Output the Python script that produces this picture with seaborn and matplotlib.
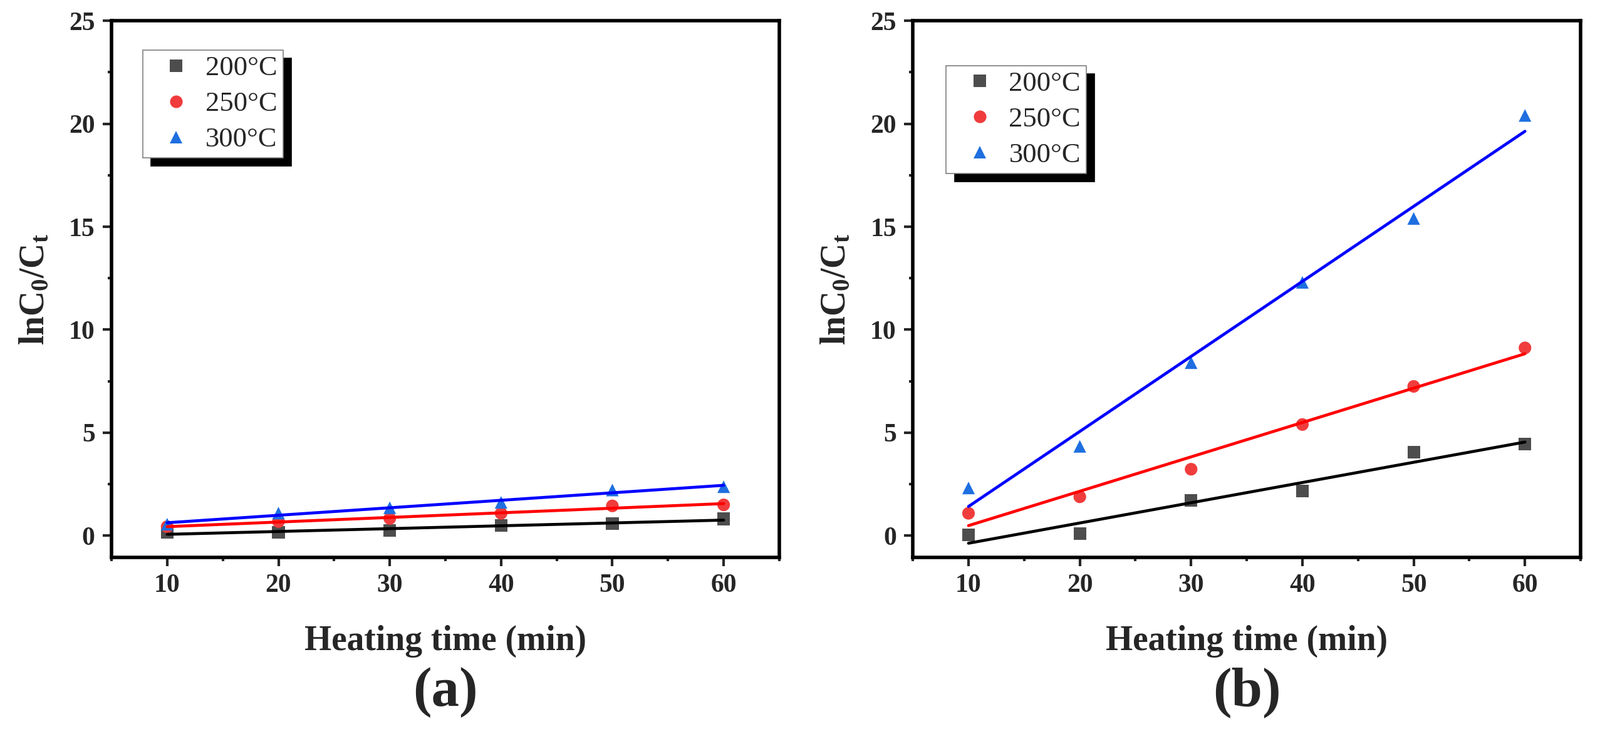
import numpy as np
import pandas as pd
import matplotlib
matplotlib.use("Agg")
import matplotlib.pyplot as plt
import matplotlib.patches as mpatches
from matplotlib.ticker import MultipleLocator
import seaborn as sns


# data
time = [10, 20, 30, 40, 50, 60]
temps = ["200°C", "250°C", "300°C"]

a_200 = [0.16, 0.16, 0.26, 0.50, 0.59, 0.82]
a_250 = [0.44, 0.69, 0.84, 1.09, 1.45, 1.50]
a_300 = [0.56, 1.10, 1.36, 1.62, 2.22, 2.38]

b_200 = [0.05, 0.10, 1.72, 2.17, 4.06, 4.46]
b_250 = [1.09, 1.89, 3.23, 5.40, 7.25, 9.12]
b_300 = [2.32, 4.34, 8.40, 12.30, 15.40, 20.40]

panel_labels = ["(a)", "(b)"]

marker_colors = ["#4d4d4d", "#f03c3c", "#1e6fe0"]
line_colors = ["black", "red", "blue"]
markers = ["s", "o", "^"]


sns.set_theme(style="ticks")
plt.rcParams["font.family"] = ["Liberation Serif", "DejaVu Serif"]
plt.rcParams["font.weight"] = "bold"
plt.rcParams["mathtext.fontset"] = "custom"
plt.rcParams["mathtext.rm"] = "Liberation Serif:bold"
plt.rcParams["mathtext.bf"] = "Liberation Serif:bold"
plt.rcParams["mathtext.it"] = "Liberation Serif:bold:italic"


def make_df(series):
    return pd.DataFrame({
        "time": time * len(series),
        "value": sum(series, []),
        "temp": np.repeat(temps, len(time)),
    })


fig, axes = plt.subplots(1, 2, figsize=(25.54, 11.64), dpi=100)
fig.subplots_adjust(left=0.0697, right=0.9879, bottom=0.2354, top=0.9716, wspace=0.2)

panels = [[a_200, a_250, a_300], [b_200, b_250, b_300]]
leg_anchors = [(0.047, 0.945), (0.050, 0.916)]
legends = []

for ax, series, plabel, anchor in zip(axes, panels, panel_labels, leg_anchors):
    df = make_df(series)

    sns.scatterplot(data=df, x="time", y="value", hue="temp", style="temp",
                    palette=marker_colors, markers=markers, s=210, linewidth=0,
                    ax=ax, zorder=2)
    for temp, lc in zip(temps, line_colors):
        sns.regplot(data=df[df["temp"] == temp], x="time", y="value",
                    scatter=False, ci=None, color=lc,
                    line_kws={"lw": 3.4, "zorder": 3}, ax=ax)

    ax.set_xlim(5, 65)
    ax.set_ylim(-1.05, 25)
    ax.xaxis.set_major_locator(MultipleLocator(10))
    ax.xaxis.set_minor_locator(MultipleLocator(5))
    ax.yaxis.set_major_locator(MultipleLocator(5))
    ax.yaxis.set_minor_locator(MultipleLocator(2.5))
    ax.tick_params(which="major", direction="out", length=10, width=3,
                   labelsize=30, pad=9, top=False, right=False)
    ax.tick_params(which="minor", direction="out", length=4.5, width=3,
                   top=False, right=False)
    for sp in ax.spines.values():
        sp.set_visible(True)
        sp.set_linewidth(4)
        sp.set_color("black")

    ax.set_xlabel("Heating time (min)", fontsize=40, fontweight="bold")
    ax.xaxis.set_label_coords(0.5, -0.126)
    ax.set_ylabel(r"lnC$_\mathbf{0}$/C$_\mathbf{t}$", fontsize=40, fontweight="bold")
    ax.yaxis.set_label_coords(-0.09, 0.5)
    ax.text(0.5, -0.252, plabel, transform=ax.transAxes, ha="center", va="center",
            fontsize=64, fontweight="bold")

    old = ax.get_legend()
    handles, labels = [], []
    for h, t in zip(old.legend_handles, old.get_texts()):
        if t.get_text() in temps:
            handles.append(h)
            labels.append(t.get_text())
    leg = ax.legend(handles, labels, loc="upper left", bbox_to_anchor=anchor,
                    borderaxespad=0, frameon=True, fancybox=False, framealpha=1,
                    edgecolor="#7f7f7f", prop={"size": 32, "weight": "normal"},
                    borderpad=0.2, handlelength=2.0, handletextpad=0.05,
                    labelspacing=0.38)
    leg.get_frame().set_linewidth(1.2)
    legends.append((ax, leg))

# thick black offset shadow behind the legends
fig.canvas.draw()
for ax, leg in legends:
    sh = mpatches.Shadow(leg.legendPatch, 9.4, -9.4, color="black", alpha=1)
    ax.add_artist(sh)

fig.savefig("out.png", dpi=100, facecolor="white")
